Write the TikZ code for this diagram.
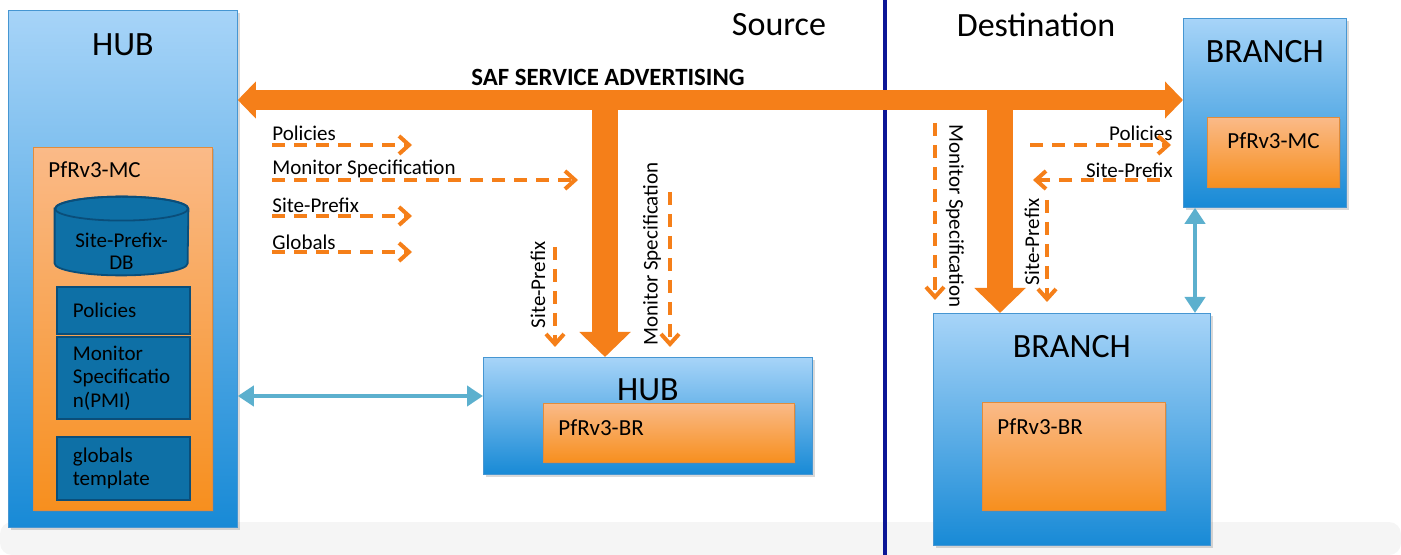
\documentclass[tikz,border=0pt]{standalone}
\usepackage{fontspec}
\setmainfont{Carlito}
\usetikzlibrary{arrows.meta, positioning, shadows}

\definecolor{boxtop}{RGB}{167,212,248}
\definecolor{boxbot}{RGB}{24,138,214}
\definecolor{boxedge}{RGB}{70,150,210}
\definecolor{ortop}{RGB}{250,186,136}
\definecolor{orbot}{RGB}{247,143,30}
\definecolor{oredge}{RGB}{225,140,60}
\definecolor{dbfill}{RGB}{14,112,166}
\definecolor{dbedge}{RGB}{10,78,122}
\definecolor{saforange}{RGB}{245,127,25}
\definecolor{linkblue}{RGB}{92,176,206}
\definecolor{divblue}{RGB}{12,22,150}

\begin{document}
\begin{tikzpicture}[
x=0.5pt, y=-0.5pt,
 bluebox/.style = {rectangle, anchor=north west, top color=boxtop, bottom color=boxbot, draw=boxedge, line width=0.4pt, inner sep=0pt,
                   drop shadow={shadow xshift=1.2pt, shadow yshift=-1.2pt, opacity=0.3}},
   orbox/.style = {rectangle, anchor=north west, top color=ortop, bottom color=orbot, draw=oredge, line width=0.4pt, inner sep=0pt,
                   drop shadow={shadow xshift=1pt, shadow yshift=-1pt, opacity=0.3}},
   dbbox/.style = {rectangle, anchor=north west, fill=dbfill, draw=dbedge, line width=0.9pt, inner xsep=8pt, inner ysep=0pt,
                   text width=50.5pt, align=left, font=\fontsize{10.5}{11.75}\selectfont},
  bigtxt/.style = {font=\fontsize{17}{20}\selectfont, inner sep=0pt},
  boxtxt/.style = {font=\fontsize{11.5}{14}\selectfont, inner sep=0pt},
     lbl/.style = {font=\fontsize{10.5}{12.6}\selectfont, inner sep=0pt},
  saftxt/.style = {font=\fontsize{12.4}{15}\selectfont\bfseries, inner sep=0pt},
  bigarr/.style = {draw=saforange, line width=10pt, {Triangle[length=9pt,width=18pt]}-{Triangle[length=9pt,width=18pt]}},
 droparr/.style = {draw=saforange, line width=13pt, -{Triangle[length=12.5pt,width=25pt]}},
 dasharr/.style = {draw=saforange, line width=2pt, dash pattern=on 6.5pt off 4.5pt, -{Straight Barb[length=5pt,width=9pt]}},
 linkarr/.style = {draw=linkblue, line width=2pt, {Triangle[length=8pt,width=10pt]}-{Triangle[length=8pt,width=10pt]}},
 divider/.style = {draw=divblue, line width=2.2pt},
   dbcap/.style = {x radius=33.25pt, y radius=6pt}
                    ]
\useasboundingbox (0,0) rectangle (1401,555);
\fill[rounded corners=6pt, black!4] (0,522) rectangle (1401,555);

% divider
\coordinate (divTop) at (885,0);
\coordinate (divBot) at (885,555);
\draw[divider] (divTop) -- (divBot);
\node[bigtxt] (src) at (779,25) {Source};
\node[bigtxt] (dst) at (1036,25) {Destination};

%nodes: hub, source side
\node[bluebox, minimum width=114.5pt, minimum height=258.5pt] (hubL) at (8,10) {};
\node[bigtxt] (hubLtxt) at ([yshift=-17.5pt]hubL.north) {HUB};
\node[orbox, minimum width=89.5pt, minimum height=181.5pt] (mcL) at (33,147) {};
\node[boxtxt, anchor=west] (mcLtxt) at ([xshift=7.5pt,yshift=-11.5pt]mcL.north west) {PfRv3-MC};
% site-prefix database drum
\node[minimum width=66.5pt, minimum height=39pt, inner sep=0pt] (db) at (121.5,236) {};
\draw[fill=dbfill, draw=dbedge, line width=0.9pt]
  ([yshift=-6pt]db.north west) -- ([yshift=6pt]db.south west) arc[start angle=180, end angle=360, dbcap]
  -- ([yshift=-6pt]db.north east) arc[start angle=0, end angle=180, dbcap] -- cycle;
\draw[draw=dbedge, line width=0.9pt] ([yshift=-6pt]db.north) ellipse[dbcap];
\node[align=center, inner sep=0pt, font=\fontsize{10.5}{11}\selectfont] (dbtxt) at (121.5,251) {Site-Prefix-\\DB};
\node[dbbox, minimum height=23.5pt] (pol) at (56,286) {Policies};
\node[dbbox, minimum height=41pt] (mon) at (56,336) {Monitor\\Specificatio\\n(PMI)};
\node[dbbox, minimum height=31.5pt] (glob) at (56,436) {globals\\template};

\node[bluebox, minimum width=164.5pt, minimum height=58.5pt] (hubB) at (483,357) {};
\node[bigtxt] (hubBtxt) at ([yshift=-16.5pt]hubB.north) {HUB};
\node[orbox, minimum width=125.5pt, minimum height=29.5pt] (brH) at (543,403) {};
\node[boxtxt, anchor=west] (brHtxt) at ([xshift=7.5pt,yshift=-12.5pt]brH.north west) {PfRv3-BR};

%nodes: branches, destination side
\node[bluebox, minimum width=81.5pt, minimum height=94.5pt] (brT) at (1183,18) {};
\node[bigtxt] (brTtxt) at ([yshift=-17pt]brT.north) {BRANCH};
\node[orbox, minimum width=66pt, minimum height=35pt] (mcT) at (1207,117) {};
\node[boxtxt] (mcTtxt) at ([yshift=-12pt]mcT.north) {PfRv3-MC};

\node[bluebox, minimum width=138.5pt, minimum height=116pt] (brB) at (933,313) {};
\node[bigtxt] (brBtxt) at ([yshift=-17pt]brB.north) {BRANCH};
\node[orbox, minimum width=91.5pt, minimum height=54pt] (brBB) at (982,402) {};
\node[boxtxt, anchor=west] (brBBtxt) at ([xshift=7.5pt,yshift=-12.5pt]brBB.north west) {PfRv3-BR};

% labels
\node[saftxt] (saflbl) at (608,77) {SAF SERVICE ADVERTISING};
\node[lbl, anchor=west] (lpol) at (272,133) {Policies};
\node[lbl, anchor=west] (lmon) at (272,169) {Monitor Specification};
\node[lbl, anchor=west] (lsp) at (272,205) {Site-Prefix};
\node[lbl, anchor=west] (lglob) at (272,242) {Globals};
\node[lbl, rotate=90] (vsp) at (538,285) {Site-Prefix};
\node[lbl, rotate=90] (vmon) at (652,254) {Monitor Specification};
\node[lbl, rotate=-90] (rmon) at (955,216) {Monitor Specification};
\node[lbl, rotate=90] (rsp) at (1032,242) {Site-Prefix};
\node[lbl, anchor=east] (rpol) at (1173,133) {Policies};
\node[lbl, anchor=east] (rspH) at (1173,170) {Site-Prefix};

% edges
\coordinate (saf) at (0,100);
\coordinate (srcdrop) at (605,100);
\coordinate (dstdrop) at (1000,100);
\coordinate (shortEnd) at (412,0);
\coordinate (monEnd) at (578,0);
\coordinate (vspTop) at (555,247);
\coordinate (vmonTop) at (670,192);
\coordinate (rmonTop) at (935,123);
\coordinate (rspTop) at (1047,200);
\coordinate (rpolStart) at (1030,145);
\coordinate (rspEnd) at (1033,180);
\coordinate (lnk) at (0,396);
\coordinate (lnkV) at (1195,0);

\draw[dasharr] ([yshift=-6pt]lpol.west) -- ([yshift=-6pt]lpol.west -| shortEnd);
\draw[dasharr] ([yshift=-5.5pt]lmon.west) -- ([yshift=-5.5pt]lmon.west -| monEnd);
\draw[dasharr] ([yshift=-5.5pt]lsp.west) -- ([yshift=-5.5pt]lsp.west -| shortEnd);
\draw[dasharr] ([yshift=-5pt]lglob.west) -- ([yshift=-5pt]lglob.west -| shortEnd);
\draw[dasharr, shorten >=5pt] (vspTop) -- (vspTop |- hubB.north);
\draw[dasharr, shorten >=5pt] (vmonTop) -- (vmonTop |- hubB.north);
\draw[dasharr, shorten >=6.5pt] (rmonTop) -- (rmonTop |- brB.north);
\draw[dasharr, shorten >=5.5pt] (rspTop) -- (rspTop |- brB.north);
\draw[dasharr, shorten >=6pt] (rpolStart) -- (rpolStart -| brT.west);
\draw[dasharr, shorten <=11.5pt] (brT.west |- rspEnd) -- (rspEnd);

\draw[linkarr] (hubL.east |- lnk) -- (hubB.west |- lnk);
\draw[linkarr] (lnkV |- brT.south) -- (lnkV |- brB.north);

\draw[droparr] (srcdrop) -- (srcdrop |- hubB.north);
\draw[droparr] (dstdrop) -- (dstdrop |- brB.north);
\draw[bigarr] (hubL.east |- saf) -- (brT.west |- saf);
\end{tikzpicture}
\end{document}
